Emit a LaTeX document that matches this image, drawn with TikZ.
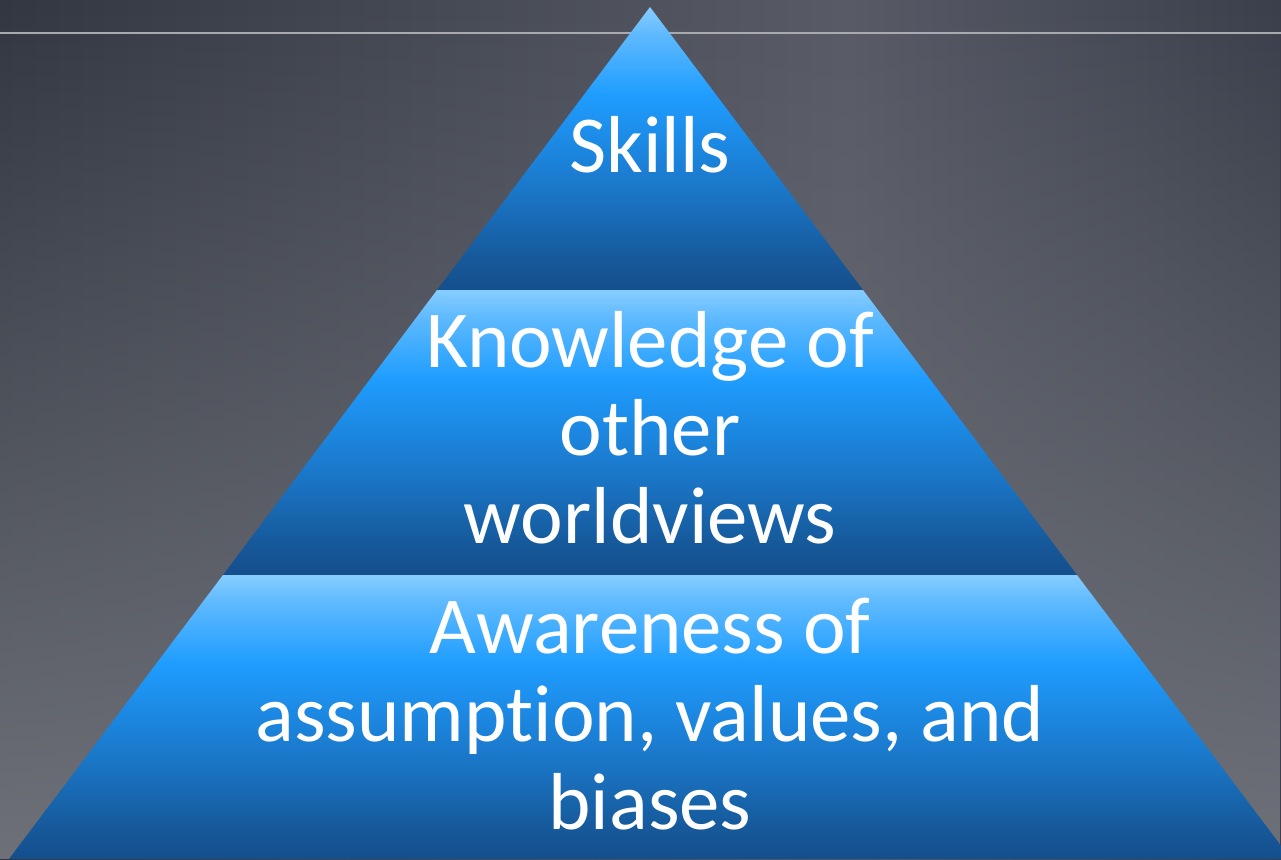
\documentclass[tikz,border=0pt]{standalone}
\usepackage{fontspec}
\setmainfont{Carlito}[Ligatures={NoCommon,NoRare}]
\usepackage{tikz}
\usetikzlibrary{fadings}

\definecolor{bgdark}{HTML}{323742}
\definecolor{bgmid}{HTML}{585B66}
\definecolor{bgright}{HTML}{3A3F4B}
\definecolor{bglow}{HTML}{6E7178}
\definecolor{ruleline}{HTML}{A8AAAF}
\definecolor{tierlight}{HTML}{86CDFF}
\definecolor{tiersky}{HTML}{5DB9FF}
\definecolor{tierbright}{HTML}{1F9DFF}
\definecolor{tiermid}{HTML}{1C88E2}
\definecolor{tierdeep}{HTML}{1A74C4}
\definecolor{tiernavy}{HTML}{165A9C}
\definecolor{tierdark}{HTML}{154E8C}

\pgfdeclarehorizontalshading{bgsweep}{100bp}{color(0bp)=(bgdark); color(25bp)=(bgdark);
  color(58bp)=(bgmid); color(75bp)=(bgright); color(100bp)=(bgright)}
\pgfdeclareverticalshading{tierfill}{100bp}{color(0bp)=(tierdark); color(25bp)=(tierdark);
  color(31bp)=(tiernavy); color(41.5bp)=(tierdeep); color(50.5bp)=(tiermid);
  color(59.5bp)=(tierbright); color(70bp)=(tiersky); color(75bp)=(tierlight); color(100bp)=(tierlight)}

\tikzset{
  tier/.style={shading=tierfill},
  tiertext/.style={text=white, align=center, inner sep=0pt,
    font=\fontsize{46}{50}\selectfont}
}

\begin{document}
\begin{tikzpicture}[x=0.02cm, y=-0.02cm]
\useasboundingbox (0,0) rectangle (1281,859);
\clip (0,0) rectangle (1281,859);
% backdrop
\shade [shading=bgsweep] (0,0) rectangle (1281,859);
\fill [bglow, path fading=north] (0,0) rectangle (1281,859);
\draw [ruleline, line width=0.8pt] (0,33) -- (1281,33);

% pyramid, three tiers
\coordinate (apex) at (650,7);
\coordinate (al) at (437,290);
\coordinate (ar) at (863,290);
\coordinate (bl) at (223,575);
\coordinate (br) at (1077,575);
\coordinate (cl) at (9,859);
\coordinate (cr) at (1291,859);
\shade [tier] (apex) -- (ar) -- (al) -- cycle;
\shade [tier] (al) -- (ar) -- (br) -- (bl) -- cycle;
\shade [tier] (bl) -- (br) -- (cr) -- (cl) -- cycle;

% base anchor sits on the last line
\node (skills) [tiertext, anchor=base] at (650,172) {Skills};
\node (knowledge) [tiertext, anchor=base] at (650,543) {Knowledge of\\other\\worldviews};
\node (awareness) [tiertext, anchor=base] at (650,829) {Awareness of\\assumption, values, and\\biases};
\end{tikzpicture}
\end{document}
